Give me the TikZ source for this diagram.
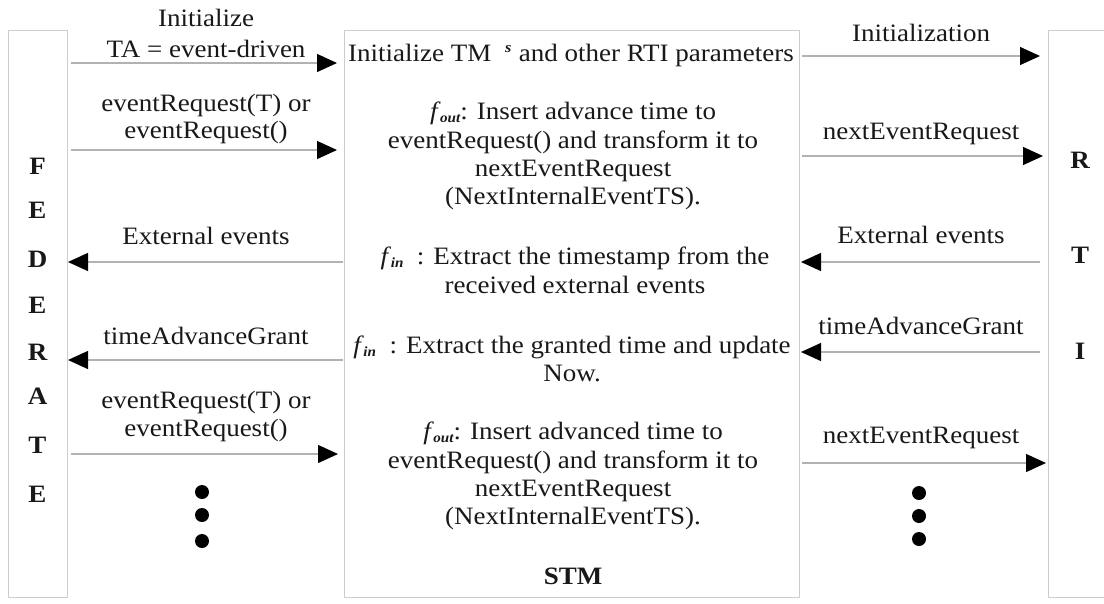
\documentclass[tikz,border=0pt]{standalone}
\usepackage{fontspec}
\setmainfont{Liberation Serif}[FakeStretch=1.08]
\usetikzlibrary{arrows.meta}
\newcommand\fsub[1]{\textit{f}\kern-0.02em\raisebox{-0.3ex}{\fontsize{14}{14}\selectfont\bfseries\itshape #1}}
\begin{document}
\begin{tikzpicture}[x=1pt,y=-1pt,
  panel/.style={draw=black!20,line width=1.4pt,inner sep=0,anchor=north west},
  txt/.style={inner sep=0,text=black!90,font=\fontsize{25}{28}\selectfont,
    text height=17pt,text depth=5pt},
  letter/.style={txt,font=\fontsize{25}{28}\selectfont\bfseries},
  msg/.style={draw=black!30,line width=1.3pt,
    -{Triangle[length=20pt,width=18pt,color=black]}},
  dot/.style={circle,fill=black,inner sep=0,minimum size=14pt}]
\useasboundingbox (0,0) rectangle (1104,603);
\fill[white] (0,0) rectangle (1104,603);

% the three columns
\node[panel,minimum width=59,minimum height=567] (fed) at (8,30) {};
\node[panel,minimum width=455,minimum height=567] (stm) at (344,30) {};
\node[panel,minimum width=70,minimum height=567] (rti) at (1048,30) {};

% column titles
\foreach \ch/\yy [count=\i] in {F/168,E/212,D/261,E/307,R/354,A/398,T/447,E/496}
  \node[letter] (fl\i) at (37.5,\yy) {\ch};
\node[letter] (r1) at (1080,162) {R};
\node[letter] (r2) at (1080,257) {T};
\node[letter] (r3) at (1080,353) {I};

% processing steps inside STM
\node[txt] (s1) at (571,55) {Initialize TM\hspace{0.55em}\raisebox{0.75ex}{\fontsize{15}{15}\selectfont\bfseries\itshape s}\hspace{0.3em}and other RTI parameters};
\node[txt] (s2a) at (573,113) {\fsub{out}: Insert advance time to};
\node[txt] (s2b) at (573,142) {eventRequest() and transform it to};
\node[txt] (s2c) at (573,170) {nextEventRequest};
\node[txt] (s2d) at (573,198) {(NextInternalEventTS).};
\node[txt] (s3a) at (575,258) {\fsub{in}\ \ : Extract the timestamp from the};
\node[txt] (s3b) at (575,287) {received external events};
\node[txt] (s4a) at (572,347) {\fsub{in}\ \ : Extract the granted time and update};
\node[txt] (s4b) at (572,375) {Now.};
\node[txt] (s5a) at (573,433) {\fsub{out}: Insert advanced time to};
\node[txt] (s5b) at (573,462) {eventRequest() and transform it to};
\node[txt] (s5c) at (573,490) {nextEventRequest};
\node[txt] (s5d) at (573,518) {(NextInternalEventTS).};
\node[txt,font=\fontsize{25}{28}\selectfont\bfseries] (stmname) at (573,578) {STM};

% federate side messages
\node[txt] (l1a) at (206,20) {Initialize};
\node[txt] (l1b) at (206,51) {TA = event-driven};
\node[txt] (l2a) at (206,105) {eventRequest(T) or};
\node[txt] (l2b) at (206,132) {eventRequest()};
\node[txt] (l3) at (206,238) {External events};
\node[txt] (l4) at (206,338) {timeAdvanceGrant};
\node[txt] (l5a) at (206,402) {eventRequest(T) or};
\node[txt] (l5b) at (206,430) {eventRequest()};

\coordinate (f1) at (71,63);   \coordinate (t1) at (337,63);
\coordinate (f2) at (71,150);  \coordinate (t2) at (337,150);
\coordinate (f3) at (343,262); \coordinate (t3) at (68,262);
\coordinate (f4) at (343,360); \coordinate (t4) at (68,360);
\coordinate (f5) at (71,454);  \coordinate (t5) at (338,454);
\draw[msg] (f1) -- (t1);
\draw[msg] (f2) -- (t2);
\draw[msg] (f3) -- (t3);
\draw[msg] (f4) -- (t4);
\draw[msg] (f5) -- (t5);

% RTI side messages
\node[txt] (m1) at (921,35) {Initialization};
\node[txt] (m2) at (921,133) {nextEventRequest};
\node[txt] (m3) at (921,237) {External events};
\node[txt] (m4) at (921,328) {timeAdvanceGrant};
\node[txt] (m5) at (921,437) {nextEventRequest};

\coordinate (g1) at (802,56);   \coordinate (u1) at (1040,56);
\coordinate (g2) at (802,156);  \coordinate (u2) at (1043,156);
\coordinate (g3) at (1040,262); \coordinate (u3) at (801,262);
\coordinate (g4) at (1040,352); \coordinate (u4) at (801,352);
\coordinate (g5) at (802,463);  \coordinate (u5) at (1046,463);
\draw[msg] (g1) -- (u1);
\draw[msg] (g2) -- (u2);
\draw[msg] (g3) -- (u3);
\draw[msg] (g4) -- (u4);
\draw[msg] (g5) -- (u5);

% continuation marks
\node[dot] (ld1) at (202,492) {};
\node[dot] (ld2) at (202,515) {};
\node[dot] (ld3) at (202,541) {};
\node[dot] (rd1) at (919,493) {};
\node[dot] (rd2) at (919,516) {};
\node[dot] (rd3) at (919,539) {};
\end{tikzpicture}
\end{document}
